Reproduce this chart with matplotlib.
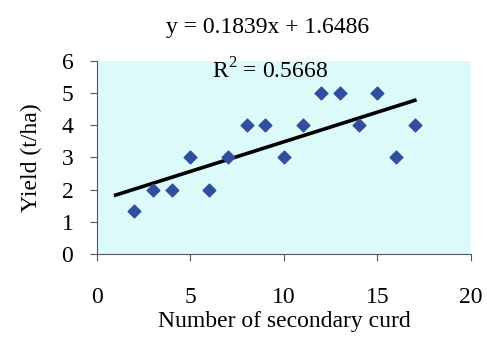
import numpy as np
import matplotlib.pyplot as plt

plt.rcParams['font.family'] = ['Liberation Serif', 'DejaVu Serif']
plt.rcParams['mathtext.fontset'] = 'custom'
plt.rcParams['mathtext.rm'] = 'Liberation Serif'

curds = [2, 3, 4, 5, 6, 7, 8, 9, 10, 11, 12, 13, 14, 15, 16, 17]
yields = [1.35, 2, 2, 3, 2, 3, 4, 4, 3, 4, 5, 5, 4, 5, 3, 4]
slope = 0.1839
intercept = 1.6486
r2 = 0.5668

fig = plt.figure(figsize=(4.87, 3.42), dpi=100)
ax = fig.add_axes([0.199, 0.257, 0.768, 0.565])
ax.set_facecolor('#ddfafa')

ax.scatter(curds, yields, marker='D', s=42, color='#2f4f9e', zorder=3)
xf = np.array([1, 17])
ax.plot(xf, slope * xf + intercept, color='black', lw=2.6, zorder=2)

ax.set_xlim(0, 20)
ax.set_ylim(0, 6)
ax.set_xticks([0, 5, 10, 15, 20])
ax.set_yticks(range(7))
for s in ['top', 'right']:
    ax.spines[s].set_visible(False)
for s in ['left', 'bottom']:
    ax.spines[s].set_color('#555555')
ax.tick_params(direction='out', length=5, color='#555555', labelsize=17)
ax.tick_params(axis='x', pad=19)
ax.tick_params(axis='y', pad=12)

ax.set_xlabel('Number of secondary curd', fontsize=17, labelpad=2)
ax.set_ylabel('Yield (t/ha)', fontsize=17, labelpad=14)

fig.text(0.55, 0.92, f'y = {slope}x + {intercept}', ha='center', va='center', fontsize=17)
ax.text(0.463, 0.95, r'R$^{\mathregular{2}}$ = ' + f'{r2}', transform=ax.transAxes,
        ha='center', va='center', fontsize=17)

fig.savefig('out.png', dpi=100)
